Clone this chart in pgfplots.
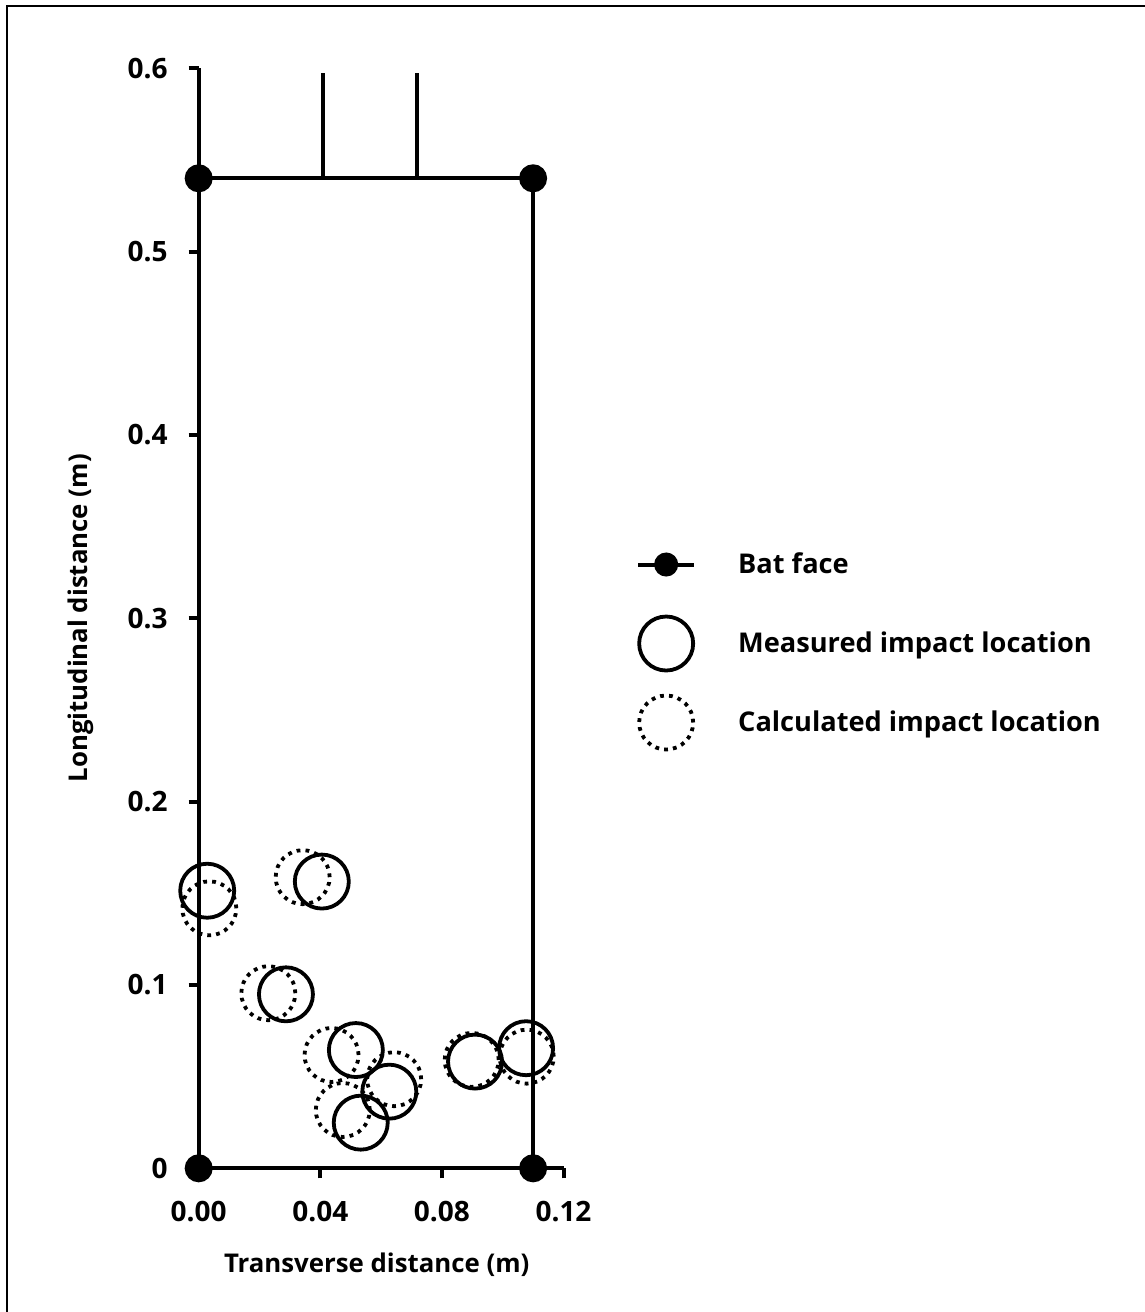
\documentclass[border=0pt]{standalone}
\usepackage{pgfplots}
\pgfplotsset{compat=1.18}
\usepackage{fontspec}
\setmainfont{Open Sans}
\begin{document}
\begin{tikzpicture}
\useasboundingbox (-99.35pt,-71.85pt) rectangle (473.15pt,584.15pt);
\draw[line width=1pt] (-95.85pt,-71.85pt) -- (-95.85pt,580.9pt) -- (473.15pt,580.9pt);
\begin{axis}[
  at={(0pt,0pt)}, anchor=origin,
  x=1520pt, y=916.65pt,
  xmin=0, xmax=0.12, ymin=0, ymax=0.6,
  enlargelimits=false,
  clip=false,
  axis lines=left,
  axis line style={-, line width=2pt, black},
  xtick={0,0.04,0.08,0.12},
  xticklabels={0.00,0.04,0.08,0.12},
  ytick={0,0.1,0.2,0.3,0.4,0.5,0.6},
  yticklabels={0,0.1,0.2,0.3,0.4,0.5,0.6},
  tick align=outside,
  major tick length=5pt,
  every tick/.style={black, line width=2pt},
  tick label style={font=\fontsize{14}{16}\selectfont\bfseries},
  xticklabel style={yshift=-8pt},
  yticklabel style={xshift=-7pt},
  label style={font=\fontsize{12.9}{15}\selectfont\bfseries},
  xlabel={Transverse distance (m)},
  ylabel={Longitudinal distance (m)},
  xlabel style={at={(axis description cs:0.488,-0.0879)}, anchor=center},
  ylabel style={at={(axis description cs:-0.3235,0.5)}, anchor=center},
  legend style={at={(axis cs:0.1418,0.3481)}, anchor=north west, draw=none, fill=none,
    font=\fontsize{13.6}{16}\selectfont\bfseries, row sep=9.5pt, column sep=21pt,
    nodes={inner sep=0pt}},
  legend cell align=left,
]
\addplot[black, line width=2pt, mark=*, mark size=6pt,
  legend image code/.code={\path[draw=none,fill=none] (0pt,-15pt) rectangle (29pt,15pt);
    \draw[line width=2pt] (0.5pt,0pt) -- (28.5pt,0pt);
    \fill (14.5pt,0pt) circle (5pt);}]
  coordinates {(0,0) (0,0.54) (0.11,0.54) (0.11,0)};
\addlegendentry{Bat face}
\addplot[black, line width=2pt, forget plot]
  coordinates {(0.041,0.5973) (0.041,0.54) (0.0718,0.54) (0.0718,0.5973)};
\addplot[black, only marks, mark=o, mark size=13.5pt, mark options={line width=1.9pt},
  legend image code/.code={\path[draw=none,fill=none] (0pt,-15pt) rectangle (29pt,15pt);
    \draw[line width=1.9pt] (14.5pt,0pt) circle (13.5pt);}]
  coordinates {(0.0028,0.1514) (0.0405,0.1564) (0.0287,0.0949) (0.0517,0.0645)
    (0.0627,0.0418) (0.0533,0.0249) (0.0909,0.0582) (0.1077,0.0655)};
\addlegendentry{Measured impact location}
\addplot[black, only marks, mark=o, mark size=13.5pt,
  mark options={line width=1.9pt, dash pattern=on 1.9pt off 2.564pt, line cap=butt},
  legend image code/.code={\path[draw=none,fill=none] (0pt,-15pt) rectangle (29pt,15pt);
    \draw[line width=1.9pt, dash pattern=on 1.9pt off 2.564pt, line cap=butt] (14.5pt,0pt) circle (13.5pt);}]
  coordinates {(0.0035,0.1418) (0.0342,0.1588) (0.0229,0.0955) (0.0437,0.0618)
    (0.0643,0.0486) (0.0474,0.0318) (0.0898,0.0591) (0.1079,0.0609)};
\addlegendentry{Calculated impact location}
\end{axis}
\end{tikzpicture}
\end{document}
